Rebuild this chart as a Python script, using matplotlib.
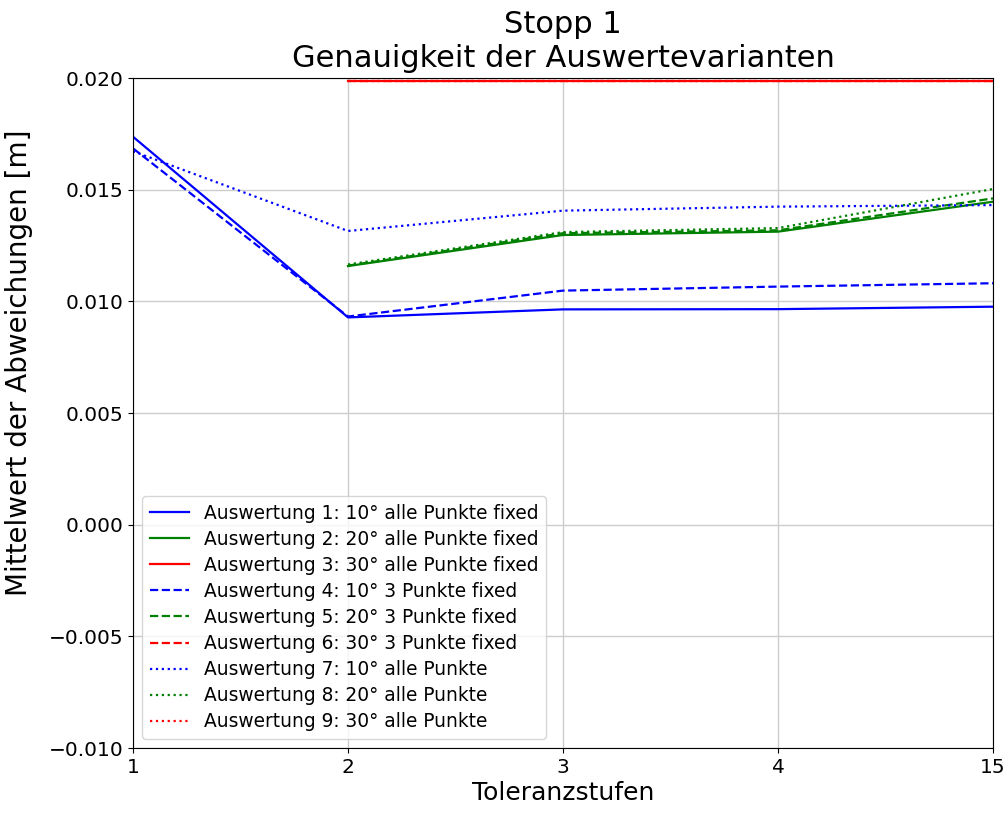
import matplotlib
matplotlib.use("Agg")
import matplotlib.pyplot as plt
import numpy as np

nan = np.nan
x_labels = ["1", "2", "3", "4", "15"]

s1 = [0.01737, 0.00928, 0.00964, 0.00965, 0.00976]
s2 = [nan, 0.01158, 0.01297, 0.01312, 0.01446]
s3 = [nan, 0.01988, 0.01988, 0.01988, 0.01988]
s4 = [0.01685, 0.00932, 0.01048, 0.01066, 0.01081]
s5 = [nan, 0.01160, 0.01305, 0.01318, 0.01461]
s6 = [nan, 0.01988, 0.01988, 0.01988, 0.01988]
s7 = [0.01672, 0.01315, 0.01406, 0.01424, 0.01431]
s8 = [nan, 0.01165, 0.01310, 0.01328, 0.01503]
s9 = [nan, 0.01988, 0.01988, 0.01988, 0.01988]

labels = [
    "Auswertung 1: 10° alle Punkte fixed",
    "Auswertung 2: 20° alle Punkte fixed",
    "Auswertung 3: 30° alle Punkte fixed",
    "Auswertung 4: 10° 3 Punkte fixed",
    "Auswertung 5: 20° 3 Punkte fixed",
    "Auswertung 6: 30° 3 Punkte fixed",
    "Auswertung 7: 10° alle Punkte",
    "Auswertung 8: 20° alle Punkte",
    "Auswertung 9: 30° alle Punkte",
]
series = [s1, s2, s3, s4, s5, s6, s7, s8, s9]
colors = ["blue", "green", "red"] * 3
styles = ["-"] * 3 + ["--"] * 3 + [":"] * 3

fig = plt.figure(figsize=(10.08, 8.14), dpi=100)
ax = fig.add_axes([133 / 1008, 1 - 748 / 814, (993 - 133) / 1008, (748 - 78) / 814])
xs = np.arange(len(x_labels))
for y, c, ls, lab in zip(series, colors, styles, labels):
    ax.plot(xs, y, color=c, linestyle=ls, label=lab, linewidth=1.6)

ax.set_xlim(0, len(x_labels) - 1)
ax.set_ylim(-0.010, 0.020)
ax.set_xticks(xs)
ax.set_xticklabels(x_labels)
ax.set_yticks([-0.010, -0.005, 0.000, 0.005, 0.010, 0.015, 0.020])
ax.tick_params(labelsize=14.5)
ax.grid(True, color="#cccccc", linewidth=1)
ax.set_xlabel("Toleranzstufen", fontsize=18, labelpad=3)
ax.set_ylabel("Mittelwert der Abweichungen [m]", fontsize=20)
ax.yaxis.set_label_coords(-0.116, 0.575)
ax.set_title("Stopp 1\nGenauigkeit der Auswertevarianten", fontsize=22, pad=8)
ax.legend(loc="lower left", fontsize=13.4, labelspacing=0.38, borderaxespad=0.5,
          handlelength=2.1)
fig.savefig("out.png", dpi=100)
